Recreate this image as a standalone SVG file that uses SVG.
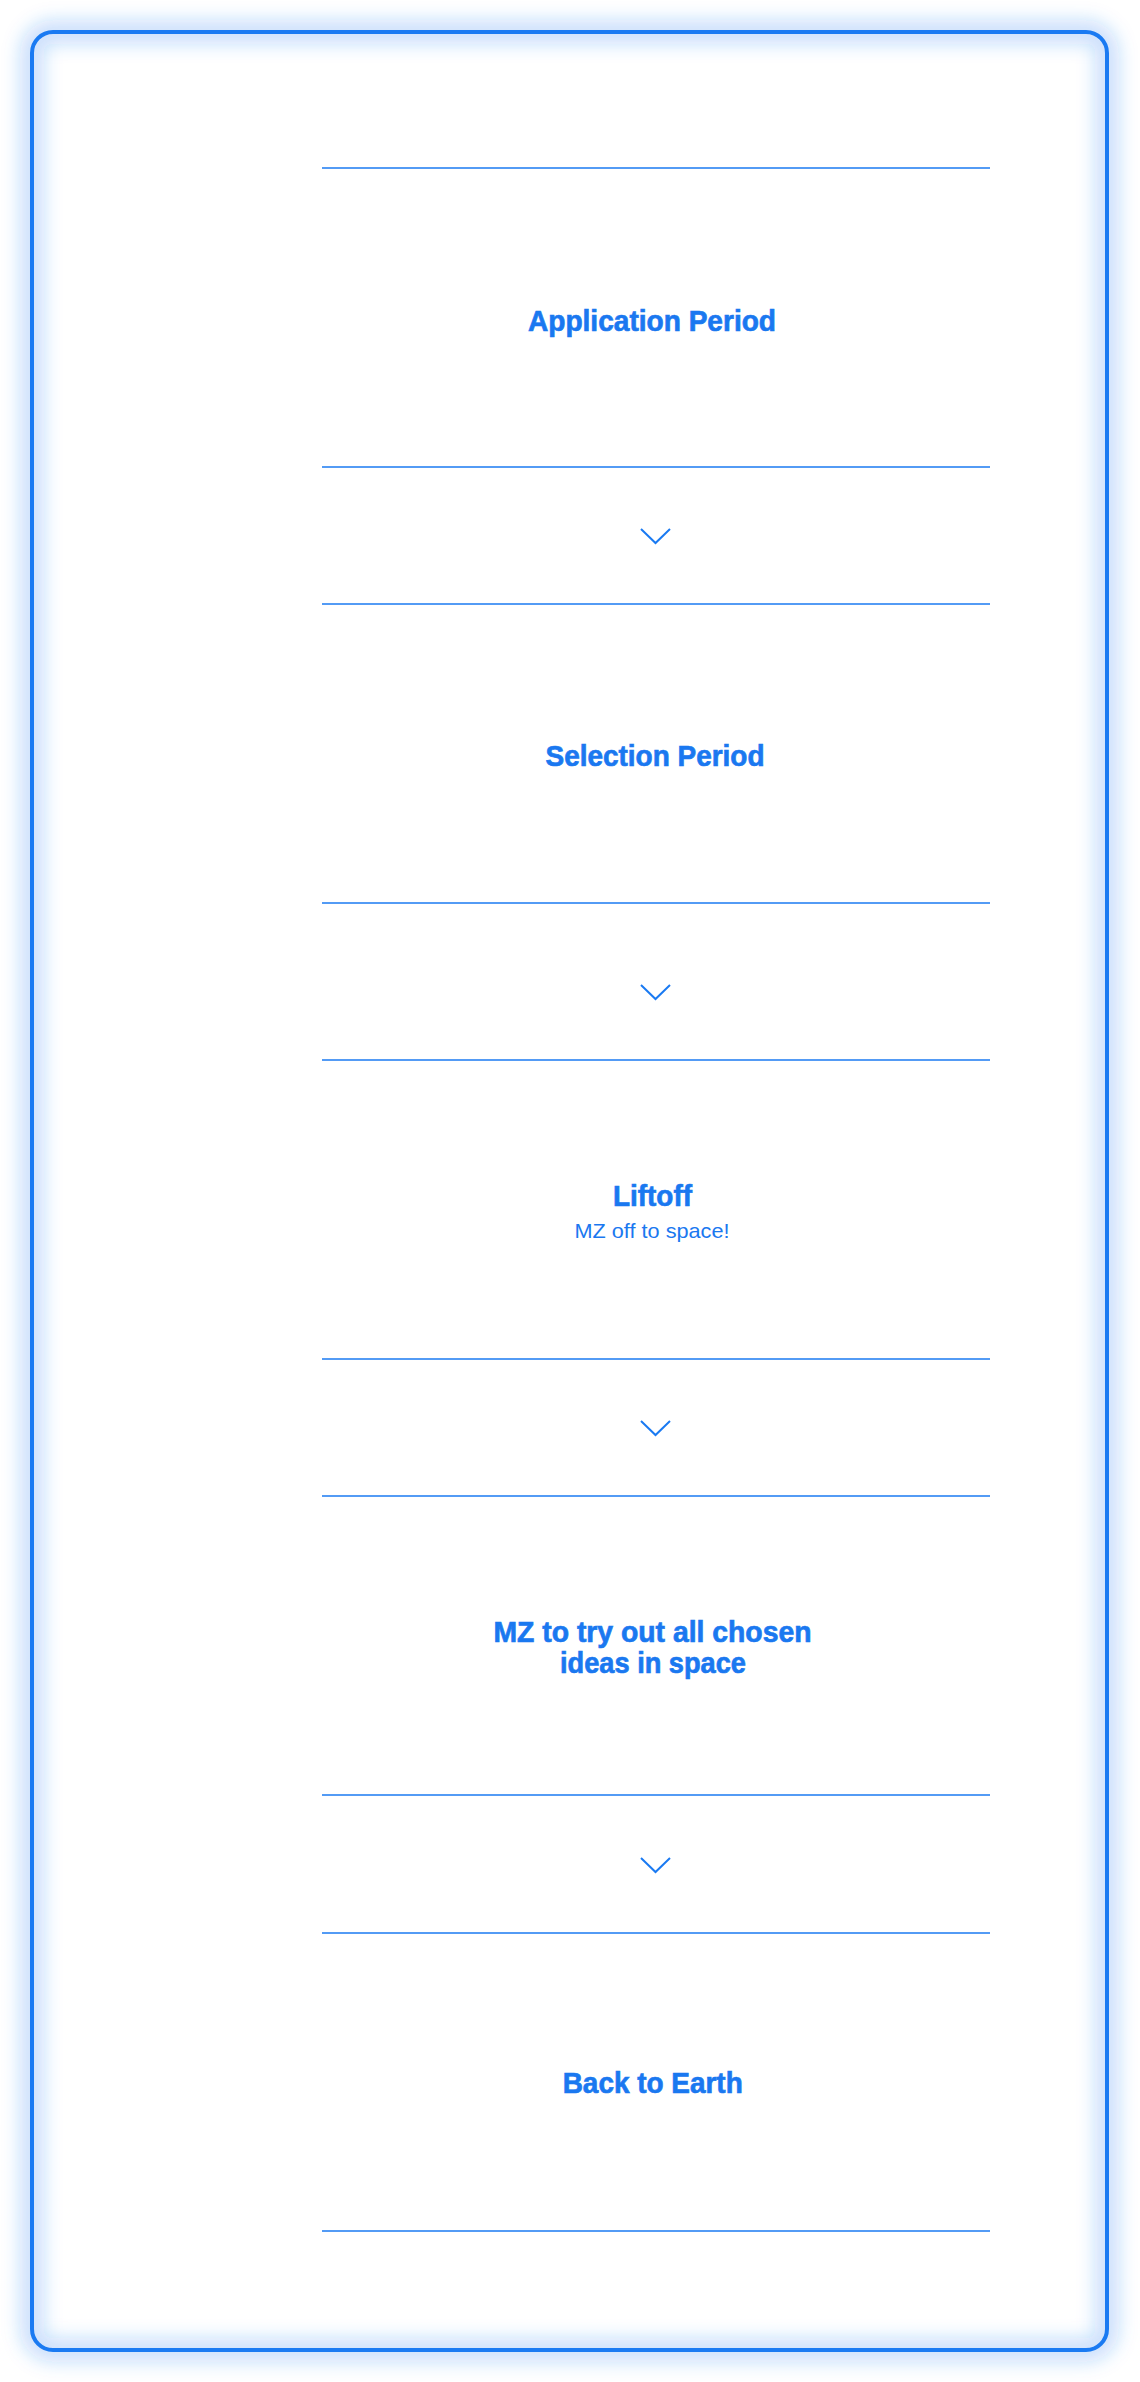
<svg xmlns="http://www.w3.org/2000/svg" width="1140" height="2382" viewBox="0 0 1140 2382">
<defs>
<style>
.rule{stroke:#1a7af2;stroke-width:1.3;fill:none}
.chev{stroke:#1a7af2;stroke-width:2;fill:none;stroke-linejoin:miter}
.t{font-family:"Liberation Sans",Arial,sans-serif;font-weight:bold;font-size:30px;fill:#1a78f0;stroke:#1a78f0;stroke-width:0.7;text-anchor:middle}
.s{font-family:"Liberation Sans",Arial,sans-serif;font-size:21px;fill:#1a78f0;text-anchor:middle}
</style>
<filter id="glow" x="-10%" y="-10%" width="120%" height="120%">
<feGaussianBlur stdDeviation="9"/>
</filter>
</defs>
<rect width="1140" height="2382" fill="#ffffff"/>
<g id="frame">
<rect x="32" y="32" width="1075" height="2318" rx="21" fill="none" stroke="#1a7af2" stroke-width="24" stroke-opacity="0.24" filter="url(#glow)"/>
<rect x="32" y="32" width="1075" height="2318" rx="21" fill="none" stroke="#1a7af2" stroke-width="4"/>
</g>
<g id="node-application">
<line class="rule" x1="322" y1="168" x2="990" y2="168"/>
<line class="rule" x1="322" y1="467" x2="990" y2="467"/>
<text class="t" x="652" y="331" textLength="248" lengthAdjust="spacingAndGlyphs">Application Period</text>
</g>
<g id="node-selection">
<line class="rule" x1="322" y1="604" x2="990" y2="604"/>
<line class="rule" x1="322" y1="903" x2="990" y2="903"/>
<text class="t" x="655" y="766" textLength="219" lengthAdjust="spacingAndGlyphs">Selection Period</text>
</g>
<g id="node-liftoff">
<line class="rule" x1="322" y1="1060" x2="990" y2="1060"/>
<line class="rule" x1="322" y1="1359" x2="990" y2="1359"/>
<text class="t" x="652.5" y="1206" textLength="79" lengthAdjust="spacingAndGlyphs">Liftoff</text>
<text class="s" x="652" y="1238" textLength="155" lengthAdjust="spacingAndGlyphs">MZ off to space!</text>
</g>
<g id="node-try">
<line class="rule" x1="322" y1="1496" x2="990" y2="1496"/>
<line class="rule" x1="322" y1="1795" x2="990" y2="1795"/>
<text class="t" x="652.5" y="1642" textLength="318" lengthAdjust="spacingAndGlyphs">MZ to try out all chosen</text>
<text class="t" x="653" y="1673" textLength="186" lengthAdjust="spacingAndGlyphs">ideas in space</text>
</g>
<g id="node-back">
<line class="rule" x1="322" y1="1933" x2="990" y2="1933"/>
<line class="rule" x1="322" y1="2231" x2="990" y2="2231"/>
<text class="t" x="652.7" y="2093" textLength="180" lengthAdjust="spacingAndGlyphs">Back to Earth</text>
</g>
<g id="connectors">
<polyline class="chev" points="641,529 655.5,543 670,529"/>
<polyline class="chev" points="641,985 655.5,999 670,985"/>
<polyline class="chev" points="641,1421 655.5,1435 670,1421"/>
<polyline class="chev" points="641,1858 655.5,1872 670,1858"/>
</g>
</svg>
